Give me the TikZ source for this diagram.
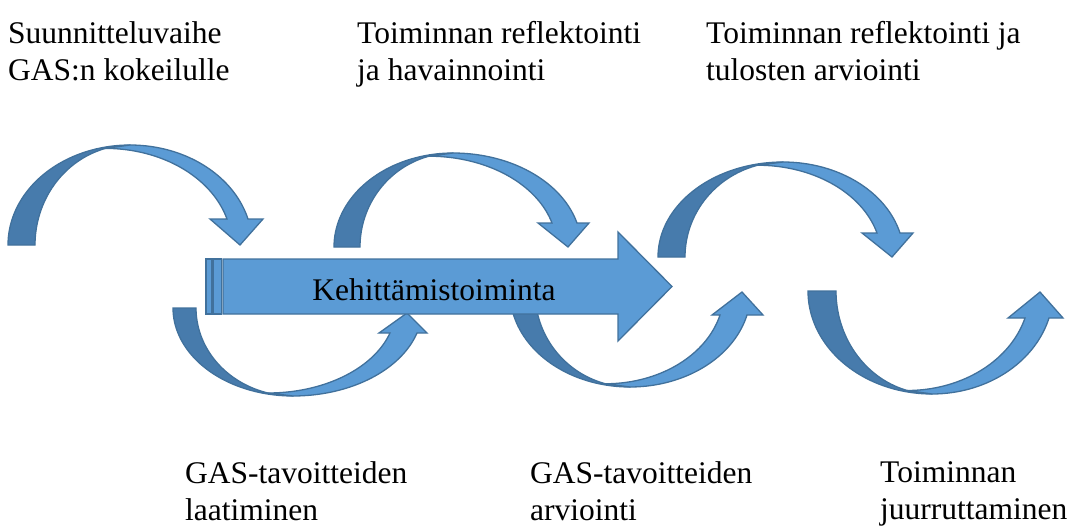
\documentclass[tikz,border=0pt]{standalone}
\usepackage{fontspec}
\setmainfont{LiberationSerif-Regular.ttf}[BoldFont=LiberationSerif-Bold.ttf]
\newfontfamily\lserif{Liberation Serif}
\definecolor{lightb}{HTML}{5B9BD5}
\definecolor{darkb}{HTML}{477BAC}
\definecolor{edgeb}{HTML}{41719C}
\begin{document}
\begin{tikzpicture}[x=1pt,y=-1pt]
\useasboundingbox (0,0) rectangle (1071,527);
\tikzset{
  light/.style={fill=lightb,draw=edgeb,line width=1.3pt},
  dark/.style={fill=darkb,draw=edgeb,line width=1.3pt},
  lbl/.style={font=\rmfamily\fontsize{31.5}{37}\selectfont, align=left, anchor=north west, inner sep=0pt},
  mid/.style={font=\rmfamily\fontsize{31.5}{37}\selectfont, anchor=base, inner sep=0pt}
}
% curved arrows
\foreach \cx/\yz/\yp/\Rl/\w/\yhb/\xout/\ws/\hl/\hr/\tx/\ty in {
130/245/145/122/27/219/248/21/210/263/240/245,
453/247/153/119/26/223/577/25/538/589/568/247,
783/257/162/125/27/233/900/23/862/913/892/257,
293/308/396/120/23/333/417/27/379/427/407/313,
630/292/387/120/25/315/747/27/712/763/742/292,
932/291/394/124/28/318/1049/24/1008/1063/1040/292}
{
  \pgfmathsetmacro\H{\yp-\yz}
  \pgfmathsetmacro\sn{(\yhb-\yz)/\H}
  \pgfmathsetmacro\te{asin(\sn)}
  \pgfmathsetmacro\Rr{(\xout-\cx)/cos(\te)}
  \pgfmathsetmacro\Rd{\Rl-\w}
  \pgfmathsetmacro\Hi{0.966*\H}
  \pgfmathsetmacro\cxi{\cx-0.2588*\Rd}
  \pgfmathsetmacro\tei{asin((\yhb-\yz)/\Hi)}
  \pgfmathsetmacro\Ri{(\xout-\ws-\cxi)/cos(\tei)}
  \draw[dark] plot[domain=180:90,samples=40] ({\cx+\Rl*cos(\x)},{\yz+\H*sin(\x)})
     -- plot[domain=90:180,samples=40] ({\cx+\Rd*cos(\x)},{\yz+\H*sin(\x)}) -- cycle;
  \draw[light] plot[domain=90:\te,samples=40] ({\cx+\Rr*cos(\x)},{\yz+\H*sin(\x)})
     -- (\hr,\yhb) -- (\tx,\ty) -- (\hl,\yhb)
     -- plot[domain=\tei:90,samples=40] ({\cxi+\Ri*cos(\x)},{\yz+\Hi*sin(\x)}) -- cycle;
}
% big arrow
\draw[light] (223,259) -- (618,259) -- (618,232) -- (672,286.5) -- (618,341) -- (618,314) -- (223,314) -- cycle;
\draw[light] (206,259) rectangle (211.5,314);
\draw[light] (213,259) rectangle (221.5,314);
\node[mid] (k) at (434,300) {Kehittämistoiminta};
% labels
\node[lbl] (t1) at (8,21) {Suunnitteluvaihe\\GAS:n kokeilulle};
\node[lbl] (t2) at (357,21) {Toiminnan reflektointi\\ja havainnointi};
\node[lbl] (t3) at (706,21) {Toiminnan reflektointi ja\\tulosten arviointi};
\node[lbl] (b1) at (185,461) {GAS-tavoitteiden\\laatiminen};
\node[lbl] (b2) at (530,461) {GAS-tavoitteiden\\arviointi};
\node[lbl] (b3) at (880,461) {Toiminnan\\juurruttaminen};
\end{tikzpicture}
\end{document}
